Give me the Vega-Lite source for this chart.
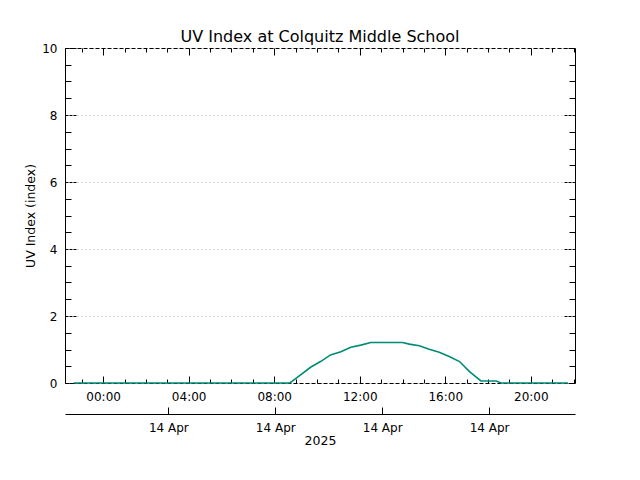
{
  "$schema": "https://vega.github.io/schema/vega-lite/v6.json",
  "width": 510,
  "height": 335,
  "autosize": {"type": "none"},
  "padding": {"left": 65, "top": 48, "right": 65, "bottom": 97},
  "title": {"text": "UV Index at Colquitz Middle School", "font": "DejaVu Sans", "fontSize": 16, "fontWeight": "normal", "color": "black", "offset": -3},
  "config": {
    "view": {"stroke": null},
    "axis": {
      "labelFont": "DejaVu Sans", "labelFontSize": 12, "labelColor": "black",
      "titleFont": "DejaVu Sans", "titleFontSize": 12.5, "titleFontWeight": "normal", "titleColor": "black",
      "domainColor": "black", "tickColor": "black", "grid": false,
      "labelFlush": false, "labelOverlap": false, "labelBound": false
    }
  },
  "data": {"values": [
    {"time": "2025-04-13T22:37:00Z", "uv": 0},
    {"time": "2025-04-14T08:44:00Z", "uv": 0},
    {"time": "2025-04-14T09:14:00Z", "uv": 0.24},
    {"time": "2025-04-14T09:42:00Z", "uv": 0.47},
    {"time": "2025-04-14T10:10:00Z", "uv": 0.64},
    {"time": "2025-04-14T10:38:00Z", "uv": 0.84},
    {"time": "2025-04-14T11:07:00Z", "uv": 0.93},
    {"time": "2025-04-14T11:35:00Z", "uv": 1.07},
    {"time": "2025-04-14T12:03:00Z", "uv": 1.13},
    {"time": "2025-04-14T12:31:00Z", "uv": 1.21},
    {"time": "2025-04-14T14:00:00Z", "uv": 1.21},
    {"time": "2025-04-14T14:19:00Z", "uv": 1.16},
    {"time": "2025-04-14T14:47:00Z", "uv": 1.11},
    {"time": "2025-04-14T15:15:00Z", "uv": 1.01},
    {"time": "2025-04-14T15:43:00Z", "uv": 0.92},
    {"time": "2025-04-14T16:11:00Z", "uv": 0.79},
    {"time": "2025-04-14T16:40:00Z", "uv": 0.64},
    {"time": "2025-04-14T17:08:00Z", "uv": 0.34},
    {"time": "2025-04-14T17:40:00Z", "uv": 0.06},
    {"time": "2025-04-14T18:23:00Z", "uv": 0.06},
    {"time": "2025-04-14T18:36:00Z", "uv": 0},
    {"time": "2025-04-14T21:44:00Z", "uv": 0}
  ]},
  "layer": [
    {
      "mark": {"type": "line", "color": "#008c74", "strokeWidth": 1.6, "interpolate": "linear"},
      "encoding": {
        "x": {
          "field": "time", "type": "temporal",
          "scale": {"type": "utc", "domain": [
            {"year": 2025, "month": 4, "date": 13, "hours": 22, "minutes": 13, "utc": true},
            {"year": 2025, "month": 4, "date": 14, "hours": 22, "minutes": 4, "utc": true}
          ]},
          "axis": {
            "orient": "bottom", "title": null, "format": "%H:%M",
            "values": [
              {"year": 2025, "month": 4, "date": 14, "hours": 0, "utc": true},
              {"year": 2025, "month": 4, "date": 14, "hours": 4, "utc": true},
              {"year": 2025, "month": 4, "date": 14, "hours": 8, "utc": true},
              {"year": 2025, "month": 4, "date": 14, "hours": 12, "utc": true},
              {"year": 2025, "month": 4, "date": 14, "hours": 16, "utc": true},
              {"year": 2025, "month": 4, "date": 14, "hours": 20, "utc": true}
            ],
            "tickSize": -7, "labelPadding": 15, "domainDash": [4, 2]
          }
        },
        "y": {
          "field": "uv", "type": "quantitative",
          "scale": {"domain": [0, 10], "nice": false, "zero": true},
          "axis": {
            "orient": "left", "title": "UV Index (index)", "values": [0, 2, 4, 6, 8, 10],
            "tickSize": -12, "tickDash": [3, 1], "labelPadding": 20, "titlePadding": 4,
            "grid": true, "gridDash": [1, 3], "gridColor": "#b4b4b4", "gridWidth": 1
          }
        }
      }
    },
    {
      "mark": {"type": "line", "strokeOpacity": 0},
      "encoding": {
        "x": {
          "field": "time", "type": "temporal",
          "axis": {
            "orient": "bottom", "title": null, "labels": false, "domain": false, "tickSize": -4,
            "values": [
              {"year": 2025, "month": 4, "date": 13, "hours": 23, "utc": true},
              {"year": 2025, "month": 4, "date": 14, "hours": 1, "utc": true},
              {"year": 2025, "month": 4, "date": 14, "hours": 2, "utc": true},
              {"year": 2025, "month": 4, "date": 14, "hours": 3, "utc": true},
              {"year": 2025, "month": 4, "date": 14, "hours": 5, "utc": true},
              {"year": 2025, "month": 4, "date": 14, "hours": 6, "utc": true},
              {"year": 2025, "month": 4, "date": 14, "hours": 7, "utc": true},
              {"year": 2025, "month": 4, "date": 14, "hours": 9, "utc": true},
              {"year": 2025, "month": 4, "date": 14, "hours": 10, "utc": true},
              {"year": 2025, "month": 4, "date": 14, "hours": 11, "utc": true},
              {"year": 2025, "month": 4, "date": 14, "hours": 13, "utc": true},
              {"year": 2025, "month": 4, "date": 14, "hours": 14, "utc": true},
              {"year": 2025, "month": 4, "date": 14, "hours": 15, "utc": true},
              {"year": 2025, "month": 4, "date": 14, "hours": 17, "utc": true},
              {"year": 2025, "month": 4, "date": 14, "hours": 18, "utc": true},
              {"year": 2025, "month": 4, "date": 14, "hours": 19, "utc": true},
              {"year": 2025, "month": 4, "date": 14, "hours": 21, "utc": true},
              {"year": 2025, "month": 4, "date": 14, "hours": 22, "utc": true}
            ]
          }
        },
        "y": {
          "field": "uv", "type": "quantitative",
          "axis": {
            "orient": "left", "title": null, "labels": false, "domain": false, "tickSize": -6,
            "values": [0.5, 1, 1.5, 2.5, 3, 3.5, 4.5, 5, 5.5, 6.5, 7, 7.5, 8.5, 9, 9.5]
          }
        }
      }
    },
    {
      "mark": {"type": "line", "strokeOpacity": 0},
      "encoding": {
        "x": {
          "field": "time", "type": "temporal",
          "axis": {
            "orient": "top", "title": null, "labels": false, "tickSize": -7, "domainDash": [4, 2],
            "values": [
              {"year": 2025, "month": 4, "date": 14, "hours": 0, "utc": true},
              {"year": 2025, "month": 4, "date": 14, "hours": 4, "utc": true},
              {"year": 2025, "month": 4, "date": 14, "hours": 8, "utc": true},
              {"year": 2025, "month": 4, "date": 14, "hours": 12, "utc": true},
              {"year": 2025, "month": 4, "date": 14, "hours": 16, "utc": true},
              {"year": 2025, "month": 4, "date": 14, "hours": 20, "utc": true}
            ]
          }
        },
        "y": {
          "field": "uv", "type": "quantitative",
          "axis": {
            "orient": "right", "title": null, "labels": false, "tickSize": -12, "tickDash": [3, 1],
            "values": [0, 2, 4, 6, 8, 10]
          }
        }
      }
    },
    {
      "mark": {"type": "line", "strokeOpacity": 0},
      "encoding": {
        "x": {
          "field": "time", "type": "temporal",
          "axis": {
            "orient": "top", "title": null, "labels": false, "domain": false, "tickSize": -4,
            "values": [
              {"year": 2025, "month": 4, "date": 13, "hours": 23, "utc": true},
              {"year": 2025, "month": 4, "date": 14, "hours": 1, "utc": true},
              {"year": 2025, "month": 4, "date": 14, "hours": 2, "utc": true},
              {"year": 2025, "month": 4, "date": 14, "hours": 3, "utc": true},
              {"year": 2025, "month": 4, "date": 14, "hours": 5, "utc": true},
              {"year": 2025, "month": 4, "date": 14, "hours": 6, "utc": true},
              {"year": 2025, "month": 4, "date": 14, "hours": 7, "utc": true},
              {"year": 2025, "month": 4, "date": 14, "hours": 9, "utc": true},
              {"year": 2025, "month": 4, "date": 14, "hours": 10, "utc": true},
              {"year": 2025, "month": 4, "date": 14, "hours": 11, "utc": true},
              {"year": 2025, "month": 4, "date": 14, "hours": 13, "utc": true},
              {"year": 2025, "month": 4, "date": 14, "hours": 14, "utc": true},
              {"year": 2025, "month": 4, "date": 14, "hours": 15, "utc": true},
              {"year": 2025, "month": 4, "date": 14, "hours": 17, "utc": true},
              {"year": 2025, "month": 4, "date": 14, "hours": 18, "utc": true},
              {"year": 2025, "month": 4, "date": 14, "hours": 19, "utc": true},
              {"year": 2025, "month": 4, "date": 14, "hours": 21, "utc": true},
              {"year": 2025, "month": 4, "date": 14, "hours": 22, "utc": true}
            ]
          }
        },
        "y": {
          "field": "uv", "type": "quantitative",
          "axis": {
            "orient": "right", "title": null, "labels": false, "domain": false, "tickSize": -6,
            "values": [0.5, 1, 1.5, 2.5, 3, 3.5, 4.5, 5, 5.5, 6.5, 7, 7.5, 8.5, 9, 9.5]
          }
        }
      }
    },
    {
      "mark": {"type": "line", "strokeOpacity": 0},
      "encoding": {
        "x": {
          "field": "time", "type": "temporal",
          "axis": {
            "orient": "bottom", "offset": 31, "title": "2025", "format": "%d %b",
            "tickSize": -7, "labelPadding": 15, "titlePadding": 1,
            "values": [
              {"year": 2025, "month": 4, "date": 14, "hours": 3, "minutes": 3, "utc": true},
              {"year": 2025, "month": 4, "date": 14, "hours": 8, "minutes": 3, "utc": true},
              {"year": 2025, "month": 4, "date": 14, "hours": 13, "minutes": 3, "utc": true},
              {"year": 2025, "month": 4, "date": 14, "hours": 18, "minutes": 3, "utc": true}
            ]
          }
        },
        "y": {"field": "uv", "type": "quantitative", "axis": null}
      }
    }
  ],
  "resolve": {"axis": {"x": "independent", "y": "independent"}}
}
